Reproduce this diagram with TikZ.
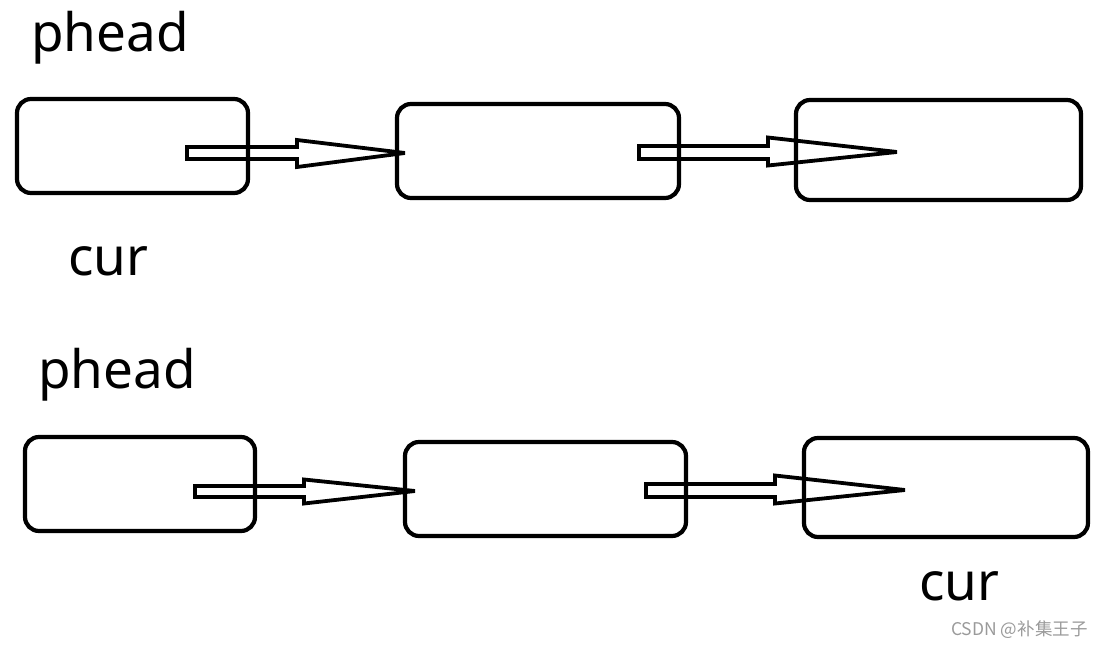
\documentclass[tikz,border=0pt]{standalone}
\usepackage{fontspec}
\setmainfont{Noto Sans}
\newfontfamily\cjkwm{Noto Sans CJK SC}
\usetikzlibrary{calc}
\definecolor{wmgray}{HTML}{9A9A9A}
\tikzset{
  box/.style={draw=black, line width=4.2pt, rounded corners=14pt, inner sep=0pt, outer sep=0pt},
  lbl/.style={anchor=base west, inner sep=0pt, font=\fontsize{53}{62}\selectfont},
  blockarrow/.style={draw=black, line width=3.8pt, line join=miter, miter limit=6},
  wm/.style={anchor=base west, inner sep=0pt, text=wmgray, font=\cjkwm\fontsize{17.5}{20}\selectfont}
}
\begin{document}
\begin{tikzpicture}[x=1pt,y=-1pt]
\useasboundingbox (0,0) rectangle (1103,647);
% top row
\node[box, minimum width=231pt, minimum height=94pt] (t1) at (132.5,146) {};
\node[box, minimum width=282pt, minimum height=94pt] (t2) at (538,151) {};
\node[box, minimum width=285pt, minimum height=100pt] (t3) at (938.5,150) {};
% bottom row
\node[box, minimum width=230pt, minimum height=94pt] (u1) at (140,484) {};
\node[box, minimum width=281pt, minimum height=94pt] (u2) at (545.5,489) {};
\node[box, minimum width=284pt, minimum height=99pt] (u3) at (946,487.5) {};
% arrow anchor coordinates
\coordinate (ta1s) at (187,153);  \coordinate (ta1h) at (297,153);  \coordinate (ta1t) at (405,153);
\coordinate (ta2s) at (639,152.5);\coordinate (ta2h) at (768,152.5);\coordinate (ta2t) at (897,152);
\coordinate (ua1s) at (195,491.5);\coordinate (ua1h) at (304,491.5);\coordinate (ua1t) at (415,491);
\coordinate (ua2s) at (646,490.5);\coordinate (ua2h) at (775,490.5);\coordinate (ua2t) at (905,490);
% block arrows
\draw[blockarrow] ($(ta1s)+(0,-6)$) -- ($(ta1h)+(0,-6)$) -- ($(ta1h)+(0,-13)$) -- (ta1t)
  -- ($(ta1h)+(0,14)$) -- ($(ta1h)+(0,6)$) -- ($(ta1s)+(0,6)$) -- cycle;
\draw[blockarrow] ($(ta2s)+(0,-6.5)$) -- ($(ta2h)+(0,-6.5)$) -- ($(ta2h)+(0,-15)$) -- (ta2t)
  -- ($(ta2h)+(0,13)$) -- ($(ta2h)+(0,6.5)$) -- ($(ta2s)+(0,6.5)$) -- cycle;
\draw[blockarrow] ($(ua1s)+(0,-5.5)$) -- ($(ua1h)+(0,-5.5)$) -- ($(ua1h)+(0,-12)$) -- (ua1t)
  -- ($(ua1h)+(0,12)$) -- ($(ua1h)+(0,5.5)$) -- ($(ua1s)+(0,5.5)$) -- cycle;
\draw[blockarrow] ($(ua2s)+(0,-6.5)$) -- ($(ua2h)+(0,-6.5)$) -- ($(ua2h)+(0,-15)$) -- (ua2t)
  -- ($(ua2h)+(0,13)$) -- ($(ua2h)+(0,6.5)$) -- ($(ua2s)+(0,6.5)$) -- cycle;
% labels
\node[lbl] (ph1) at (31,52) {phead};
\node[lbl] (cu1) at (68,275) {cur};
\node[lbl] (ph2) at (38,388) {phead};
\node[lbl] (cu2) at (919,600) {cur};
\node[wm] (wmk) at (951,635) {CSDN @补集王子};
\end{tikzpicture}
\end{document}
